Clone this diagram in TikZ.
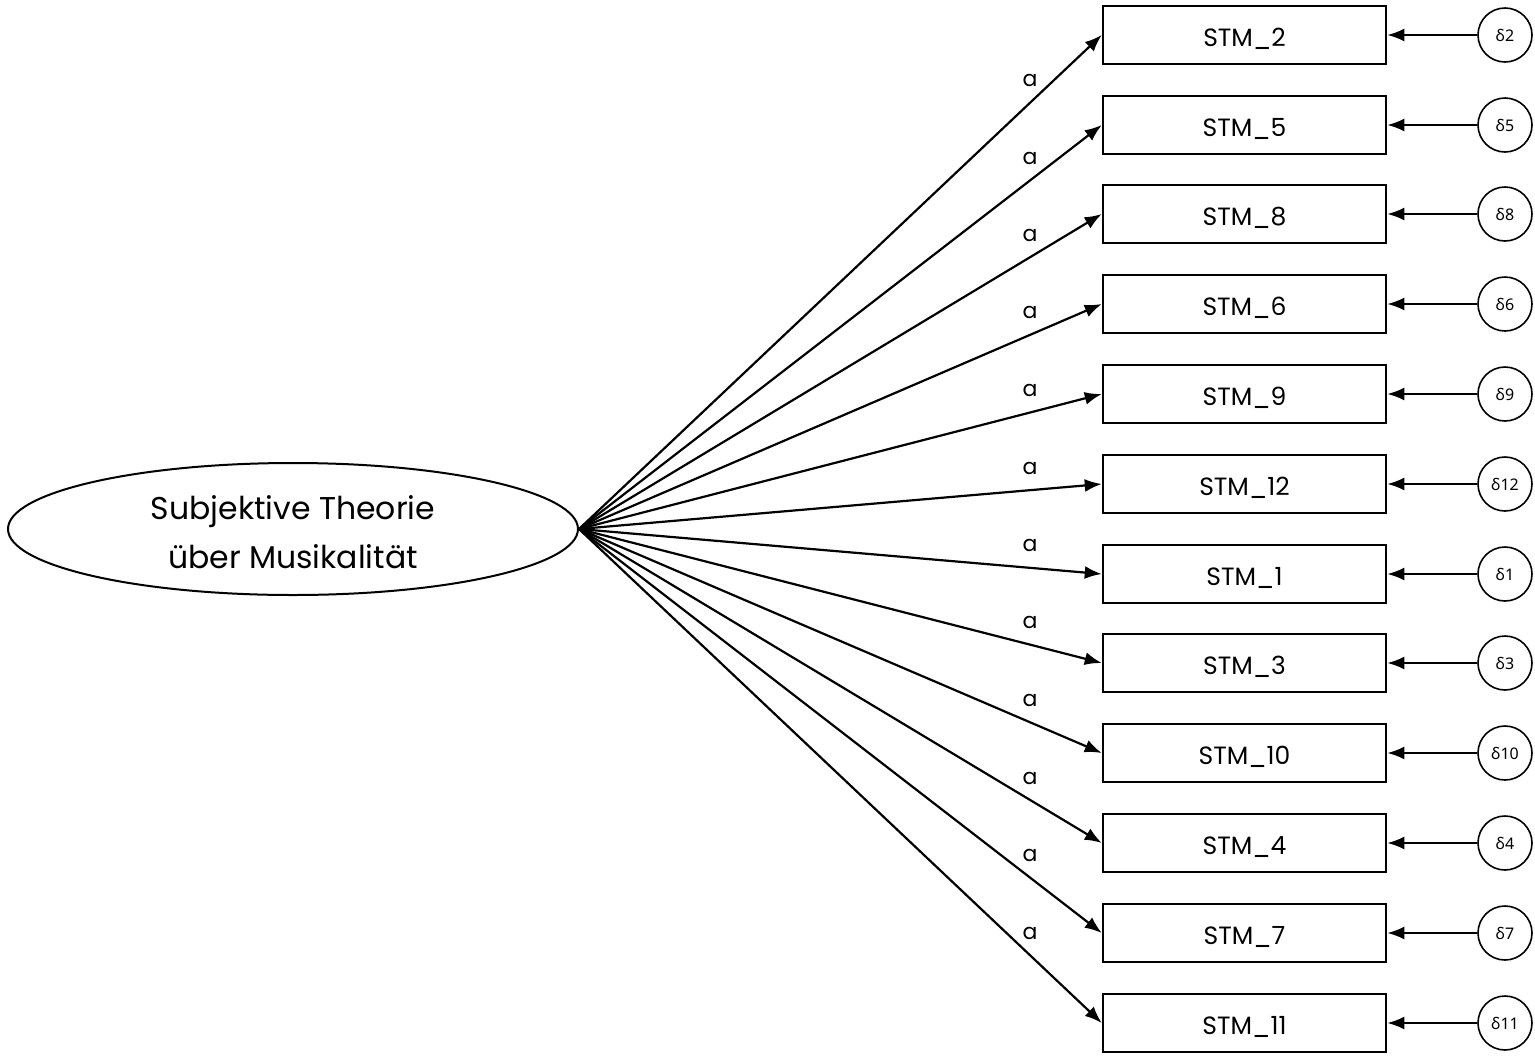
\documentclass[tikz,border=0pt]{standalone}
\usepackage{fontspec}
\setmainfont{Poppins}
\newfontfamily\gkfont{Noto Sans}
\usetikzlibrary{arrows.meta,shapes.geometric,calc}
\begin{document}
\begin{tikzpicture}[x=1pt,y=-1pt,
  obs/.style={draw,line width=2.5pt,minimum width=283pt,minimum height=58pt,inner sep=0pt,text height=22pt,text depth=0pt,font=\fontsize{25}{28}\selectfont},
  err/.style={draw,circle,line width=1.6pt,minimum size=54pt,inner sep=0pt,font=\gkfont\fontsize{16}{18}\selectfont},
  lat/.style={draw,ellipse,line width=2pt,minimum width=570pt,minimum height=132pt,inner sep=0pt,align=center,font=\fontsize{31.5}{49}\selectfont},
  path/.style={line width=2.2pt,-{Latex[length=17pt,width=13pt]}},
  lab/.style={font=\fontsize{22}{24}\selectfont}]
\useasboundingbox (0,0) rectangle (1535,1058);
\node[lat] (F) at (293,529) {\rule{0pt}{31pt}Subjektive Theorie\\über Musikalität};
\foreach \n/\y [count=\i] in {2/35,5/125,8/214,6/304,9/394,12/484,1/574,3/663,10/753,4/843,7/933,11/1023}{
  \node[obs] (S\n) at (1244.5,\y) {STM\_\n};
  \node[err] (E\n) at (1505,\y) {δ\n};
  \draw[path] (E\n) -- (S\n);
  \draw[path] (F.east) -- (S\n.west) coordinate[pos=0.863] (L\n);
  \node[lab] at ($(L\n)+(0,-22)$) {a};
}
\end{tikzpicture}
\end{document}
